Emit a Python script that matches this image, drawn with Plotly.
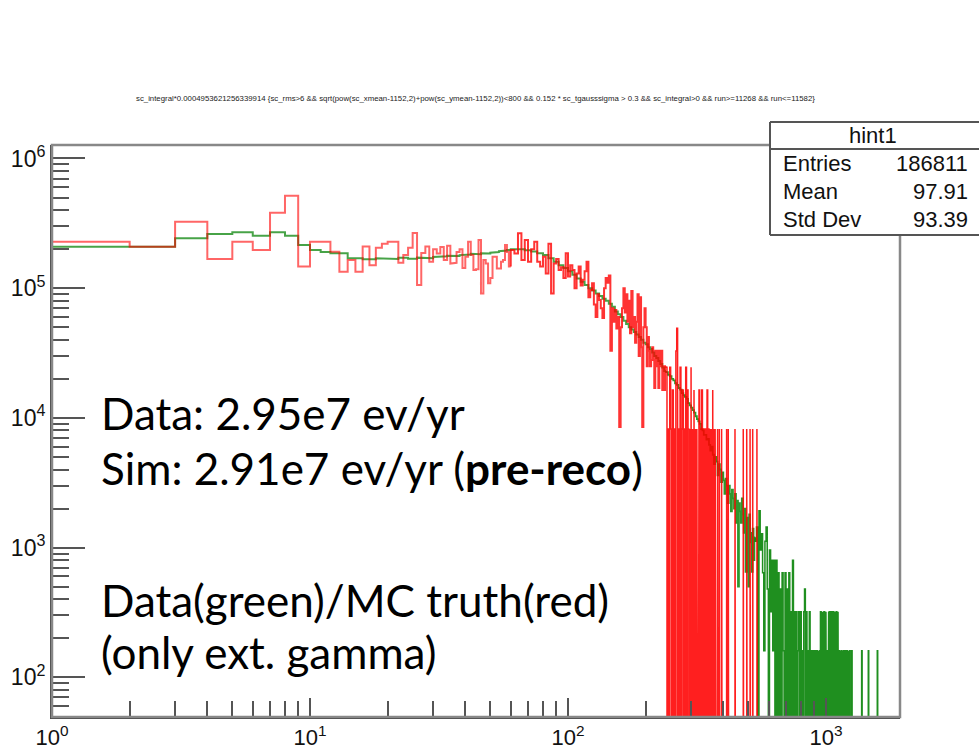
import plotly.graph_objects as go

# ---------------- data ----------------
# Red: MC truth histogram (per-bin contents)
red_int_vals = [2.28e5, 2.09e5, 3.26e5, 1.68e5, 2.28e5, 1.97e5, 3.82e5, 5.17e5, 1.47e5, 2.28e5,
                2.28e5, 1.91e5, 1.34e5, 1.65e5, 1.34e5, 2.10e5, 1.50e5, 2.05e5, 2.20e5, 2.28e5,
                2.28e5, 1.57e5, 1.80e5, 2.05e5, 2.66e5, 1.06e5, 1.87e5, 2.10e5, 1.60e5, 2.00e5,
                1.85e5, 2.08e5, 1.65e5, 2.12e5, 1.55e5, 1.57e5, 1.90e5, 2.00e5, 1.43e5, 1.75e5,
                2.28e5, 1.80e5, 1.38e5, 1.40e5, 2.35e5, 9.1e4, 1.65e5, 1.55e5, 1.09e5, 1.20e5,
                1.75e5, 1.75e5, 1.42e5, 1.42e5, 1.60e5, 1.65e5, 2.15e5, 1.90e5, 1.47e5]   # bins 1..60, width 1
red_w2_vals = [1.97e5, 1.85e5, 2.65e5, 1.65e5, 2.35e5, 1.60e5, 2.00e5, 2.28e5, 1.60e5, 1.47e5,
               1.75e5, 1.30e5, 2.20e5, 9.1e4, 1.55e5, 1.68e5, 1.38e5, 1.45e5, 1.20e5, 1.86e5,
               1.23e5, 1.50e5, 1.38e5, 1.00e5, 1.30e5, 1.47e5, 1.05e5, 1.16e5, 1.35e5, 1.60e5,
               8.5e4, 9.7e4, 1.09e5, 7.5e4, 6.0e4, 9.0e4, 8.1e4, 7.0e4, 5.9e4, 1.00e5,
               1.20e5, 1.10e5, 1.25e5, 3.3e4, 7.0e4, 5.5e4, 6.8e4, 4.9e4, 6.0e4, 8.5e3,
               5.0e4, 7.0e4, 1.00e5, 6.5e4, 9.0e4, 5.5e4, 8.0e4, 4.5e4, 9.5e4, 5.0e4,
               6.0e4, 3.8e4, 5.5e4, 9.0e4, 3.0e4, 8.5e4, 3.5e4, 8.5e3, 5.0e4, 7.0e4,
               5.0e4, 2.5e4, 4.2e4, 3.3e4, 2.5e4, 2.8e4, 3.5e4, 2.8e4, 1.7e4, 3.3e4,
               2.5e4, 3.3e4, 1.7e4, 3.3e4, 2.5e4, 3.3e4, 1.64e4, 2.5e4, 1.64e4, 2.5e4]   # bins 60..240, width 2
RED_UNIT = 8200   # content of one MC event
red_tail_counts = [3, 0, 1, 0, 3, 1, 0, 2, 0, 1,
                   0, 4, 6, 0, 1, 0, 3, 0, 1, 2,
                   0, 1, 0, 3, 0, 2, 1, 0, 1, 0,
                   3, 0, 1, 0, 2, 0, 1, 0, 1, 0,
                   1, 2, 0, 1, 0, 2, 0, 1, 0, 1,
                   0, 1, 0, 2, 0, 1, 0, 0, 1, 0,
                   1, 0, 2, 0, 1, 0, 1, 0]          # bins 240..376, width 2
red_spike_x = [380, 386, 394, 412, 418, 444, 478, 493, 508, 520, 540]
red_spike_counts = [1, 1, 1, 1, 1, 1, 1, 1, 1, 1, 1]

# Green: Data histogram
green_int_vals = [2.09e5, 2.09e5, 2.43e5, 2.62e5, 2.70e5, 2.54e5, 2.70e5, 2.54e5, 2.15e5, 1.97e5, 1.90e5]  # 1..12
green_w2_vals = [1.86e5, 1.70e5, 1.67e5, 1.70e5, 1.68e5, 1.72e5, 1.69e5, 1.72e5, 1.70e5, 1.74e5,
                 1.76e5, 1.78e5, 1.77e5, 1.80e5, 1.82e5, 1.84e5, 1.83e5, 1.86e5, 1.85e5, 1.88e5,
                 1.90e5, 1.93e5, 1.95e5, 1.97e5]   # 12..60
green_w4_vals = [2.00e5, 2.00e5, 1.96e5, 1.92e5, 1.86e5, 1.80e5, 1.70e5, 1.60e5, 1.50e5, 1.43e5,
                 1.35e5, 1.27e5, 1.19e5, 1.12e5, 1.06e5, 1.00e5, 9.6e4, 9.1e4, 8.7e4, 8.3e4,
                 8.0e4, 7.6e4, 7.2e4, 6.6e4, 6.3e4, 6.0e4, 5.6e4, 5.3e4, 5.0e4, 4.8e4,
                 4.6e4, 4.4e4, 4.2e4, 4.0e4, 3.8e4, 3.7e4, 3.5e4, 3.4e4, 3.2e4, 3.0e4,
                 2.9e4, 2.75e4, 2.6e4, 2.45e4, 2.3e4]   # 60..240
green_w4b_vals = [2.25e4, 2.15e4, 2.10e4, 2.00e4, 1.95e4, 1.85e4, 1.80e4, 1.70e4, 1.65e4, 1.55e4,
                  1.50e4, 1.45e4, 1.40e4, 1.30e4, 1.25e4, 1.20e4, 1.15e4, 1.10e4, 1.03e4, 9.8e3,
                  9.4e3, 9.0e3, 8.2e3, 8.0e3, 7.4e3, 7.4e3, 6.8e3, 6.9e3, 6.2e3, 5.6e3,
                  6.0e3, 5.2e3, 4.4e3, 5.0e3, 4.6e3, 3.6e3, 4.4e3, 4.0e3, 3.2e3, 3.8e3,
                  3.3e3, 2.6e3, 3.4e3, 3.0e3, 2.2e3, 3.0e3, 2.6e3, 1.9e3, 2.8e3, 2.4e3,
                  2.0e3, 2.6e3, 1.55e3, 2.3e3, 5.0e2, 2.2e3, 1.9e3, 1.55e3, 2.4e3, 1.8e3,
                  1.3e3, 2.0e3, 6.5e2, 1.7e3, 1.5e3, 5.0e2, 1.8e3, 1.3e3, 1.1e3, 6.5e2,
                  1.4e3, 8.0e2, 1.2e3]   # 240..532
GREEN_UNIT = 160
green_tail_counts = [7, 9, 0, 12, 6, 8, 4, 1, 7, 9,
                     3, 0, 6, 2, 5, 1, 5, 0, 5, 0,
                     4, 0, 3, 0, 4, 1, 0, 4, 0, 3,
                     0, 4, 0, 2, 0, 5, 0, 2, 0, 2,
                     0, 1, 2, 0, 2, 0, 1, 0, 2, 3,
                     0, 2, 0, 1, 0, 2, 0, 1, 0, 1,
                     0, 1, 0, 1, 0, 1, 0, 1, 0, 1,
                     2, 0, 2, 0, 1, 2, 0, 2, 0, 1,
                     0, 2, 0, 2, 0, 1, 2, 0, 0, 2,
                     0, 2, 0, 1, 2, 0, 2, 0, 1, 0,
                     1, 0, 1, 0, 1, 0, 1, 0, 0, 1,
                     0, 0, 1, 0, 1, 0, 0, 1, 0]   # 532..1246, width 6
green_spike_x = [1257, 1375, 1459, 1581]
green_spike_counts = [1, 1, 1, 1]

x_tick_vals = [1, 10, 100, 1000]
x_tick_text = ["10<sup>0</sup>", "10<sup>1</sup>", "10<sup>2</sup>", "10<sup>3</sup>"]
y_tick_vals = [1e2, 1e3, 1e4, 1e5, 1e6]
y_tick_text = ["10<sup>2</sup>", "10<sup>3</sup>", "10<sup>4</sup>", "10<sup>5</sup>", "10<sup>6</sup>"]

stats_names = ["Entries", "Mean", "Std Dev"]
stats_values = ["186811", "97.91", "93.39"]
title_text = ("sc_integral*0.0004953621256339914 {sc_rms>6 && sqrt(pow(sc_xmean-1152,2)+pow(sc_ymean-1152,2))<800"
              " && 0.152 * sc_tgausssigma > 0.3 && sc_integral>0 && run>=11268 && run<=11582}")
X_MAX = 1936
FLOOR = 1.0  # empty bins are drawn down below the axis


# ---------------- helpers ----------------
def bins_from(start, width, values):
    return [(start + i * width, start + (i + 1) * width, v) for i, v in enumerate(values)]


def spikes_from(xs, counts, unit, width, start, end):
    out, pos = [], start
    for x, c in zip(xs, counts):
        if x > pos:
            out.append((pos, x, 0.0))
        out.append((x, x + width, c * unit))
        pos = x + width
    if end > pos:
        out.append((pos, end, 0.0))
    return out


def step_xy(bins, prev=None):
    xs, ys = [], []
    if prev is not None:
        xs.append(bins[0][0])
        ys.append(prev if prev > 0 else FLOOR)
    for lo, hi, v in bins:
        y = v if v > 0 else FLOOR
        xs += [lo, hi]
        ys += [y, y]
    return xs, ys


red_bins = (bins_from(1, 1, red_int_vals) + bins_from(60, 2, red_w2_vals)
            + bins_from(240, 2, [c * RED_UNIT for c in red_tail_counts])
            + spikes_from(red_spike_x, red_spike_counts, RED_UNIT, 2, 376, X_MAX))
green_bins = (bins_from(1, 1, green_int_vals) + bins_from(12, 2, green_w2_vals)
              + bins_from(60, 4, green_w4_vals) + bins_from(240, 4, green_w4b_vals)
              + bins_from(532, 6, [c * GREEN_UNIT for c in green_tail_counts])
              + spikes_from(green_spike_x, green_spike_counts, GREEN_UNIT, 6, 1246, X_MAX))


def split(bins, edges):
    parts = []
    for a, b in zip(edges[:-1], edges[1:]):
        idx = [i for i, bn in enumerate(bins) if a <= bn[0] < b]
        if not idx:
            continue
        prev = bins[idx[0] - 1][2] if idx[0] > 0 else None
        parts.append(step_xy([bins[i] for i in idx], prev))
    return parts


fig = go.Figure()

green_parts = split(green_bins, [0, 240, 532, 1e9])
green_styles = [("rgba(0,128,0,0.72)", 2), ("rgba(0,128,0,0.82)", 1.8), ("rgba(0,128,0,0.88)", 1.5)]
for (xs, ys), (col, w) in zip(green_parts, green_styles):
    fig.add_trace(go.Scatter(x=xs, y=ys, mode="lines", line=dict(color=col, width=w),
                             hoverinfo="skip", showlegend=False))

red_parts = split(red_bins, [0, 60, 240, 1e9])
red_styles = [("rgba(255,0,0,0.60)", 2), ("rgba(255,0,0,0.80)", 2), ("rgba(255,0,0,0.88)", 1.5)]
for (xs, ys), (col, w) in zip(red_parts, red_styles):
    fig.add_trace(go.Scatter(x=xs, y=ys, mode="lines", line=dict(color=col, width=w),
                             hoverinfo="skip", showlegend=False))

# minor tick positions (2..9 per decade)
x_minor = [m * 10 ** d for d in range(0, 4) for m in range(2, 10) if m * 10 ** d < X_MAX]
y_minor = [m * 10 ** d for d in range(1, 7) for m in range(2, 10) if m * 10 ** d < 1.3e6]

W, H = 979, 751
L, R, T, B = 52, 79, 145, 34
pw, ph = W - L - R, H - T - B


def px(xpix):
    return (xpix - L) / pw


def py(ypix):
    return (H - B - ypix) / ph


axis_font = dict(family="Liberation Sans, Arial, sans-serif", color="#111")
fig.update_xaxes(type="log", range=[0, 3.287], showgrid=False, zeroline=False,
                 showline=True, linecolor="#444", linewidth=2,
                 tickmode="array", tickvals=x_tick_vals, ticktext=x_tick_text,
                 ticks="inside", ticklen=19, tickwidth=2, tickcolor="#555",
                 tickfont=dict(size=22, **axis_font),
                 minor=dict(tickmode="array", tickvals=x_minor, ticks="inside", ticklen=16,
                            tickwidth=2, tickcolor="#555"))
fig.update_yaxes(type="log", range=[1.694, 6.104], showgrid=False, zeroline=False,
                 showline=True, linecolor="#444", linewidth=2,
                 tickmode="array", tickvals=y_tick_vals, ticktext=y_tick_text,
                 ticks="inside", ticklen=33, tickwidth=2, tickcolor="#555",
                 tickfont=dict(size=23, **axis_font),
                 minor=dict(tickmode="array", tickvals=y_minor, ticks="inside", ticklen=17,
                            tickwidth=2, tickcolor="#555"))

box_line = dict(color="#555", width=2)
shapes = [
    # frame
    dict(type="rect", xref="paper", yref="paper", x0=0, y0=0, x1=1, y1=1,
         line=dict(color="#888", width=2.5)),
    # stats box (runs off the right edge of the canvas)
    dict(type="rect", xref="paper", yref="paper", x0=px(770), x1=px(1000), y0=py(235), y1=py(122),
         line=dict(width=0), fillcolor="white", layer="above"),
    dict(type="line", xref="paper", yref="paper", x0=px(770), x1=px(1000), y0=py(122), y1=py(122),
         line=box_line),
    dict(type="line", xref="paper", yref="paper", x0=px(770), x1=px(1000), y0=py(235), y1=py(235),
         line=box_line),
    dict(type="line", xref="paper", yref="paper", x0=px(770), x1=px(770), y0=py(235), y1=py(122),
         line=box_line),
    dict(type="line", xref="paper", yref="paper", x0=px(770), x1=px(1000), y0=py(149), y1=py(149),
         line=box_line),
]

stat_font = dict(family="Liberation Sans, Arial, sans-serif", size=22, color="#111")
annotations = [
    dict(text=title_text, xref="paper", yref="paper", x=px(475), y=py(98), showarrow=False,
         xanchor="center", yanchor="middle",
         font=dict(family="Liberation Sans, Arial, sans-serif", size=7.8, color="#222")),
    dict(text="hint1", xref="paper", yref="paper", x=px(873), y=py(135), showarrow=False,
         xanchor="center", yanchor="middle", font=stat_font),
]
for name, val, ypix in zip(stats_names, stats_values, [163, 191, 219]):
    annotations.append(dict(text=name, xref="paper", yref="paper", x=px(781), y=py(ypix),
                            showarrow=False, xanchor="left", yanchor="middle", font=stat_font))
    annotations.append(dict(text=val, xref="paper", yref="paper", x=px(970), y=py(ypix),
                            showarrow=False, xanchor="right", yanchor="middle", font=stat_font))

big_font = dict(family="Lato, Open Sans, sans-serif", size=44, color="#000")
text_lines = [("Data: 2.95e7 ev/yr", 413),
              ("Sim: 2.91e7 ev/yr (<b>pre-reco</b>)", 468),
              ("Data(green)/MC truth(red)", 600),
              ("(only ext. gamma)", 652)]
for txt, ypix in text_lines:
    annotations.append(dict(text=txt, xref="paper", yref="paper", x=px(99), y=py(ypix),
                            showarrow=False, xanchor="left", yanchor="middle", font=big_font))

fig.update_layout(width=W, height=H, margin=dict(l=L, r=R, t=T, b=B, autoexpand=False),
                  paper_bgcolor="white", plot_bgcolor="white",
                  shapes=shapes, annotations=annotations, showlegend=False)

fig.write_html("out.html", config={"displayModeBar": False},
               post_script="document.body.style.margin='0';document.body.style.overflow='hidden';")
